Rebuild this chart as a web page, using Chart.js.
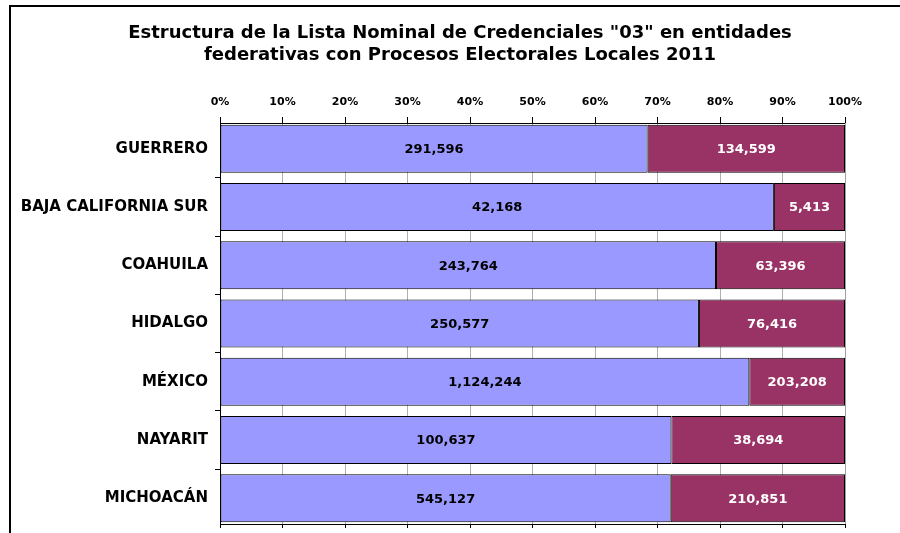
<!DOCTYPE html>
<html>
<head>
<meta charset="utf-8">
<script src="https://cdn.jsdelivr.net/npm/chart.js@4/dist/chart.umd.min.js"></script>
<style>
  body { margin: 0; background: #fff; }
  #wrap { width: 900px; height: 533px; position: relative; }
</style>
</head>
<body>
<div id="wrap"><canvas id="chart" width="900" height="533"></canvas></div>
<script>
const entidades = ["GUERRERO", "BAJA CALIFORNIA SUR", "COAHUILA", "HIDALGO", "MÉXICO", "NAYARIT", "MICHOACÁN"];
const serieA = [291596, 42168, 243764, 250577, 1124244, 100637, 545127];
const serieB = [134599, 5413, 63396, 76416, 203208, 38694, 210851];
const titulo = ['Estructura de la Lista Nominal de Credenciales "03" en entidades',
                'federativas con Procesos Electorales Locales 2011'];

// porcentaje de cada serie sobre el total de la entidad
const pctA = serieA.map((v, i) => ({ x: v / (v + serieB[i]) * 100, y: i }));
const pctB = serieB.map((v, i) => ({ x: v / (serieA[i] + v) * 100, y: i }));

const FONT = "'DejaVu Sans', sans-serif";

// marco, titulo y etiquetas de valor
const extras = {
  id: "extras",
  afterDraw(chart) {
    const ctx = chart.ctx;
    ctx.save();
    ctx.strokeStyle = "#000";
    ctx.lineWidth = 2;
    ctx.beginPath();
    ctx.moveTo(10, 533);
    ctx.lineTo(10, 6);
    ctx.lineTo(900, 6);
    ctx.stroke();

    ctx.fillStyle = "#000";
    ctx.font = "bold 18px " + FONT;
    ctx.textAlign = "center";
    ctx.textBaseline = "middle";
    ctx.fillText(titulo[0], 460, 33);
    ctx.fillText(titulo[1], 460, 55);

    // borde derecho del area de trazado
    const a = chart.chartArea;
    ctx.strokeStyle = "#a0a0a0";
    ctx.lineWidth = 1;
    ctx.beginPath();
    ctx.moveTo(a.right + 0.5, a.top);
    ctx.lineTo(a.right + 0.5, a.bottom);
    ctx.stroke();

    ctx.font = "bold 13px " + FONT;
    const raw = [serieA, serieB];
    const colores = ["#000", "#fff"];
    raw.forEach((serie, d) => {
      chart.getDatasetMeta(d).data.forEach((bar, i) => {
        ctx.fillStyle = colores[d];
        ctx.fillText(serie[i].toLocaleString("en-US"), (bar.x + bar.base) / 2, bar.y + 1);
      });
    });
    ctx.restore();
  }
};

const yMin = -0.44, yMax = 6.44;

new Chart(document.getElementById("chart"), {
  type: "bar",
  data: {
    datasets: [
      { data: pctA, backgroundColor: "#9999FF", borderColor: "#000", borderWidth: 1, borderSkipped: false },
      { data: pctB, backgroundColor: "#993366", borderColor: "#000", borderWidth: 1, borderSkipped: false }
    ]
  },
  options: {
    indexAxis: "y",
    responsive: false,
    animation: false,
    devicePixelRatio: 1,
    barPercentage: 0.823,
    categoryPercentage: 1,
    layout: { padding: { top: 0, left: 0, right: 55, bottom: 0 } },
    plugins: { legend: { display: false }, tooltip: { enabled: false }, title: { display: false } },
    scales: {
      x: {
        position: "top",
        stacked: true,
        min: 0, max: 100,
        afterFit(s) { s.height = 123; },
        ticks: { stepSize: 10, padding: 8, maxRotation: 0, color: "#000", font: { family: FONT, weight: "bold", size: 11 },
                 callback: v => v + "%" },
        grid: { color: "#b0b0b0", tickColor: "#000", tickLength: 6 },
        border: { color: "#000" }
      },
      x2: {
        position: "bottom",
        min: 0, max: 100,
        afterFit(s) { s.height = 9; },
        ticks: { stepSize: 10, display: false },
        grid: { drawOnChartArea: false, color: "#000", tickLength: 4 },
        border: { color: "#000" }
      },
      y: {
        type: "linear",
        weight: 1,
        stacked: true,
        reverse: true,
        offset: false,
        bounds: "data",
        min: yMin, max: yMax,
        afterFit(s) { s.width = 215; s.paddingTop = 0; s.paddingBottom = 0; },
        afterDataLimits(s) { s.min = yMin; s.max = yMax; },
        afterBuildTicks(s) { s.min = yMin; s.max = yMax; s.ticks = entidades.map((_, i) => ({ value: i })); },
        ticks: { padding: 7, color: "#000", font: { family: FONT, weight: "bold", size: 15 },
                 callback: v => entidades[v] },
        grid: { offset: false, drawOnChartArea: false, drawTicks: false },
        border: { display: false }
      },
      y2: {
        type: "linear",
        weight: 0,
        position: "left",
        reverse: true,
        offset: false,
        bounds: "data",
        min: yMin, max: yMax,
        afterFit(s) { s.width = 5; s.paddingTop = 0; s.paddingBottom = 0; },
        afterBuildTicks(s) { s.min = yMin; s.max = yMax; s.ticks = [0.5, 1.5, 2.5, 3.5, 4.5, 5.5].map(v => ({ value: v })); },
        ticks: { display: false },
        grid: { offset: false, drawOnChartArea: false, color: "#000", tickLength: 5 },
        border: { color: "#000" }
      }
    }
  },
  plugins: [extras]
});
</script>
</body>
</html>
